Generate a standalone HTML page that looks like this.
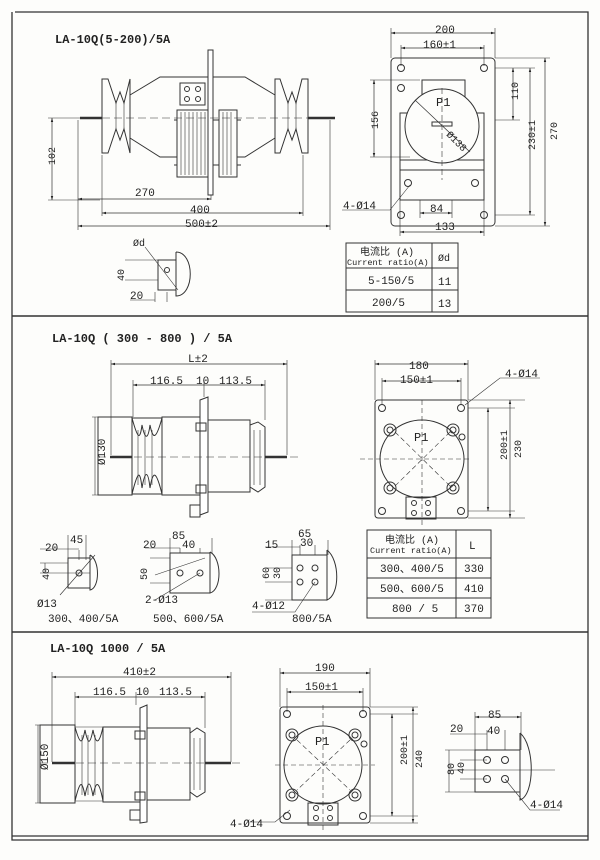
<!DOCTYPE html>
<html><head><meta charset="utf-8"><style>
html,body{margin:0;padding:0;background:#fdfdfb;}
svg{display:block;}
text{font-family:"Liberation Mono","Noto Sans CJK SC",monospace;fill:#222;}
</style></head><body>
<svg width="600" height="860" viewBox="0 0 600 860" xmlns="http://www.w3.org/2000/svg">
<defs>
<marker id="a" viewBox="0 0 10 10" refX="10" refY="5" markerWidth="6" markerHeight="6" orient="auto-start-reverse"><path d="M0,2L10,5L0,8z" fill="#222"/></marker>
</defs>
<g stroke="#333" fill="none" stroke-width="1">
<path d="M15,12H588V840H12V12" stroke-width="1.3"/>
<line x1="12" y1="316" x2="588" y2="316" stroke-width="1.5"/>
<line x1="12" y1="632" x2="588" y2="632" stroke-width="1.5"/>
<line x1="12" y1="836" x2="588" y2="836" stroke-width="1.3"/>

<!-- ===== Section 1 side view ===== -->
<rect x="208" y="50" width="5" height="145" fill="#fff"/>
<path d="M102,79L108,79L116,103L120,92L124,103L130,79L130,153L124,129L120,140L116,129L108,153L102,153Z"/>
<path d="M116,103V129M124,103V129" stroke-width="0.6"/>
<path d="M130,95L160,77H208M130,138L160,157H177M213,77H245L275,95M237,157H245L275,138"/>
<path d="M275,79L280,79L288,103L292,92L296,103L302,79L308,79L308,153L302,153L296,129L292,140L288,129L280,153L275,153Z"/>
<path d="M288,103V129M296,103V129" stroke-width="0.6"/>
<rect x="177" y="110" width="31" height="67"/>
<path d="M181,112V175M185,112V175M189,112V175M193,112V175M197,112V175M201,112V175M205,112V175" stroke-width="0.6"/>
<rect x="219" y="110" width="18" height="67"/>
<path d="M223,112V175M227,112V175M231,112V175" stroke-width="0.6"/>
<rect x="180" y="83" width="25" height="22"/>
<circle cx="187" cy="89" r="2.5"/><circle cx="198" cy="89" r="2.5"/><circle cx="187" cy="99" r="2.5"/><circle cx="198" cy="99" r="2.5"/>
<path d="M213,120H219M213,165H219M174,120h3M174,165h3M237,120h4M237,165h4"/>
<path d="M80,118H102M308,118H335" stroke-width="2.5"/>
<path d="M102,118H308" stroke-dasharray="8,4" stroke-width="0.6"/>
<path d="M48,118H100M48,200H100" stroke-width="0.6"/>
<line x1="52" y1="118" x2="52" y2="200" marker-start="url(#a)" marker-end="url(#a)" stroke-width="0.7"/>
<path d="M78,120V230M211,195V200M102,155V216M303,155V216M330,120V230" stroke-width="0.6"/>
<line x1="78" y1="199" x2="211" y2="199" marker-start="url(#a)" marker-end="url(#a)" stroke-width="0.7"/>
<line x1="102" y1="213" x2="303" y2="213" marker-start="url(#a)" marker-end="url(#a)" stroke-width="0.7"/>
<line x1="78" y1="226" x2="330" y2="226" marker-start="url(#a)" marker-end="url(#a)" stroke-width="0.7"/>
<rect x="158" y="260" width="18" height="30"/>
<path d="M176,252C195,252 195,296 176,296V252"/>
<circle cx="167" cy="270" r="2.5"/>
<path d="M145,247L178,290M125,260H158M125,280H158M155,292V302M167,292V302M130,300H155" stroke-width="0.6"/>

<!-- ===== Section 1 front view ===== -->
<rect x="391" y="58" width="104" height="168" rx="4"/>
<circle cx="401" cy="68" r="3.5"/><circle cx="484" cy="68" r="3.5"/><circle cx="401" cy="215" r="3.5"/><circle cx="484" cy="215" r="3.5"/>
<circle cx="401" cy="88" r="3.5"/>
<path d="M422,80H465V113H484V170H400V113H422Z"/>
<path d="M400,160H484V200H400Z"/>
<circle cx="408" cy="183" r="3.5"/><circle cx="475" cy="183" r="3.5"/>
<circle cx="442" cy="126" r="37" fill="#fdfdfb"/>
<line x1="442" y1="88" x2="442" y2="180" stroke-dasharray="6,3" stroke-width="0.6"/>
<path d="M415,100L470,152" stroke-width="0.7"/>
<rect x="432" y="122" width="20" height="4"/>
<path d="M391,58V28M495,58V28M401,66V45M484,66V45" stroke-width="0.6"/>
<line x1="391" y1="33" x2="495" y2="33" marker-start="url(#a)" marker-end="url(#a)" stroke-width="0.7"/>
<line x1="401" y1="48" x2="484" y2="48" marker-start="url(#a)" marker-end="url(#a)" stroke-width="0.7"/>
<path d="M495,68H535M495,120H520M495,215H535M495,226H550M495,58H550M370,80H420M370,157H410" stroke-width="0.6"/>
<line x1="513" y1="68" x2="513" y2="120" marker-start="url(#a)" marker-end="url(#a)" stroke-width="0.7"/>
<line x1="530" y1="68" x2="530" y2="215" marker-start="url(#a)" marker-end="url(#a)" stroke-width="0.7"/>
<line x1="545" y1="58" x2="545" y2="226" marker-start="url(#a)" marker-end="url(#a)" stroke-width="0.7"/>
<line x1="374" y1="80" x2="374" y2="157" marker-start="url(#a)" marker-end="url(#a)" stroke-width="0.7"/>
<path d="M420,200V218M452,200V218M400,200V236M484,200V236" stroke-width="0.6"/>
<line x1="420" y1="213" x2="452" y2="213" marker-start="url(#a)" marker-end="url(#a)" stroke-width="0.7"/>
<line x1="400" y1="232" x2="484" y2="232" marker-start="url(#a)" marker-end="url(#a)" stroke-width="0.7"/>
<path d="M342,210H390L410,185" stroke-width="0.6"/>
<rect x="346" y="243" width="112" height="69"/>
<path d="M346,268H458M346,290H458M432,243V312"/>

<!-- ===== Section 2 side view ===== -->
<rect x="98" y="417" width="34" height="78"/>
<path d="M132,418L162,418M132,494H162"/>
<path d="M132,418C138,440 140,440 142,425C145,440 148,440 150,425C153,440 156,440 162,418M132,494C138,470 140,470 142,488C145,470 148,470 150,488C153,470 156,470 162,494"/>
<path d="M138,430V485M145,430V485M152,430V485" stroke-width="0.6"/>
<rect x="162" y="417" width="38" height="78"/>
<path d="M200,400L208,397V512L200,515Z" fill="#fff"/>
<rect x="208" y="420" width="42" height="72"/>
<path d="M250,425L258,422L265,427V487L258,492L250,487Z"/>
<path d="M254,430V485M260,430V485" stroke-width="0.6"/>
<path d="M196,423h10v8h-10zM196,485h10v8h-10zM190,505h10v12h-10z"/>
<path d="M110,457H132M265,457H287" stroke-width="2.5"/>
<path d="M98,457H300" stroke-dasharray="8,4" stroke-width="0.6"/>
<path d="M111,360V455M287,360V455M133,380V417M204,380V397M265,380V420" stroke-width="0.6"/>
<line x1="111" y1="364" x2="287" y2="364" marker-start="url(#a)" marker-end="url(#a)" stroke-width="0.7"/>
<line x1="133" y1="385" x2="265" y2="385" marker-start="url(#a)" marker-end="url(#a)" stroke-width="0.7"/>
<path d="M92,417H98M92,495H98M95,417V495" stroke-width="0.6"/>

<rect x="375" y="400" width="93" height="118" rx="3"/>
<circle cx="382" cy="408" r="3.5"/><circle cx="461" cy="408" r="3.5"/><circle cx="382" cy="511" r="3.5"/><circle cx="461" cy="511" r="3.5"/>
<ellipse cx="422" cy="459" rx="42" ry="39" fill="#fdfdfb"/>
<circle cx="390" cy="430" r="6"/><circle cx="390" cy="430" r="3"/><circle cx="453" cy="430" r="6"/><circle cx="453" cy="430" r="3"/>
<circle cx="390" cy="488" r="6"/><circle cx="390" cy="488" r="3"/><circle cx="453" cy="488" r="6"/><circle cx="453" cy="488" r="3"/>
<circle cx="462" cy="437" r="3"/>
<rect x="406" y="497" width="30" height="22"/>
<circle cx="414" cy="503" r="2.5"/><circle cx="428" cy="503" r="2.5"/><circle cx="414" cy="513" r="2.5"/><circle cx="428" cy="513" r="2.5"/>
<path d="M395,432L450,486M450,432L395,486M422,400V525M360,459H472" stroke-dasharray="5,3" stroke-width="0.6"/>
<path d="M375,400V360M468,400V360M382,405V378M461,405V378" stroke-width="0.6"/>
<line x1="375" y1="364" x2="468" y2="364" marker-start="url(#a)" marker-end="url(#a)" stroke-width="0.7"/>
<line x1="382" y1="381" x2="461" y2="381" marker-start="url(#a)" marker-end="url(#a)" stroke-width="0.7"/>
<path d="M468,408H515M468,511H515M468,400H525M468,518H525" stroke-width="0.6"/>
<line x1="488" y1="408" x2="488" y2="511" marker-start="url(#a)" marker-end="url(#a)" stroke-width="0.7"/>
<line x1="510" y1="400" x2="510" y2="518" marker-start="url(#a)" marker-end="url(#a)" stroke-width="0.7"/>
<path d="M540,378H500L465,405" stroke-width="0.6"/>

<rect x="68" y="558" width="22" height="30"/>
<path d="M90,555C100,560 100,588 90,590V555"/>
<circle cx="79" cy="573" r="3"/>
<path d="M68,535V560M86,535V560M79,550V560M40,549H79M40,573H90M40,563H68M45,563V573M60,595L95,555" stroke-width="0.6"/>
<rect x="170" y="553" width="40" height="40"/>
<path d="M210,552C222,558 222,590 210,593V552"/>
<circle cx="180" cy="573" r="3"/><circle cx="200" cy="573" r="3"/>
<path d="M170,538V553M212,538V553M180,548V553M200,548V553M145,548H180M150,558H170M150,583H170M155,575L205,558M155,600L200,573" stroke-width="0.6"/>
<rect x="292" y="555" width="35" height="45"/>
<path d="M327,550C340,560 340,595 327,600V550"/>
<circle cx="300" cy="568" r="3"/><circle cx="315" cy="568" r="3"/><circle cx="300" cy="582" r="3"/><circle cx="315" cy="582" r="3"/>
<path d="M292,540V555M328,540V555M300,545V555M315,545V555M265,547H300M265,568H292M265,582H292M265,600H292M252,612H295L315,582" stroke-width="0.6"/>
<rect x="367" y="530" width="124" height="88"/>
<path d="M367,558H491M367,578H491M367,598H491M456,530V618"/>

<!-- ===== Section 3 ===== -->
<rect x="40" y="725" width="35" height="78"/>
<path d="M75,727C80,745 82,745 85,730C88,745 90,745 93,730C96,745 99,745 103,727M75,801C80,780 82,780 85,796C88,780 90,780 93,796C96,780 99,780 103,801"/>
<path d="M75,727H103M75,801H103M82,735V795M88,735V795M95,735V795" stroke-width="0.6"/>
<rect x="103" y="727" width="37" height="75"/>
<path d="M140,708L147,705V822L140,823Z" fill="#fff"/>
<rect x="147" y="728" width="43" height="72"/>
<path d="M190,733L197,728L205,733V792L197,797L190,792Z"/>
<path d="M194,738V790M200,738V790" stroke-width="0.6"/>
<path d="M135,731h10v8h-10zM135,792h10v8h-10zM130,810h10v10h-10z"/>
<path d="M52,763H75M205,763H231" stroke-width="2.5"/>
<path d="M40,763H240" stroke-dasharray="8,4" stroke-width="0.6"/>
<path d="M52,672V762M231,672V762M75,692V727M136,692V705M205,692V728M35,725H40M35,803H40" stroke-width="0.6"/>
<line x1="52" y1="677" x2="231" y2="677" marker-start="url(#a)" marker-end="url(#a)" stroke-width="0.7"/>
<line x1="75" y1="697" x2="205" y2="697" marker-start="url(#a)" marker-end="url(#a)" stroke-width="0.7"/>
<line x1="38" y1="725" x2="38" y2="803" stroke-width="0.6"/>

<rect x="280" y="707" width="90" height="116" rx="3"/>
<circle cx="287" cy="714" r="3.5"/><circle cx="363" cy="714" r="3.5"/><circle cx="287" cy="816" r="3.5"/><circle cx="363" cy="816" r="3.5"/>
<circle cx="323" cy="765" r="39" fill="#fdfdfb"/>
<circle cx="292" cy="735" r="6"/><circle cx="292" cy="735" r="3"/><circle cx="355" cy="735" r="6"/><circle cx="355" cy="735" r="3"/>
<circle cx="292" cy="795" r="6"/><circle cx="292" cy="795" r="3"/><circle cx="355" cy="795" r="6"/><circle cx="355" cy="795" r="3"/>
<circle cx="364" cy="744" r="3"/>
<rect x="308" y="803" width="30" height="22"/>
<circle cx="316" cy="808" r="2.5"/><circle cx="330" cy="808" r="2.5"/><circle cx="316" cy="818" r="2.5"/><circle cx="330" cy="818" r="2.5"/>
<path d="M297,740L350,790M350,740L297,790M323,705V830M275,765H375" stroke-dasharray="5,3" stroke-width="0.6"/>
<path d="M280,707V668M370,707V668M287,712V688M363,712V688" stroke-width="0.6"/>
<line x1="280" y1="673" x2="370" y2="673" marker-start="url(#a)" marker-end="url(#a)" stroke-width="0.7"/>
<line x1="287" y1="692" x2="363" y2="692" marker-start="url(#a)" marker-end="url(#a)" stroke-width="0.7"/>
<path d="M370,714H418M370,816H418M370,707H418M370,823H418" stroke-width="0.6"/>
<line x1="392" y1="714" x2="392" y2="816" marker-start="url(#a)" marker-end="url(#a)" stroke-width="0.7"/>
<line x1="413" y1="707" x2="413" y2="823" marker-start="url(#a)" marker-end="url(#a)" stroke-width="0.7"/>
<path d="M250,822H275L290,810" stroke-width="0.6"/>

<rect x="475" y="750" width="45" height="42"/>
<path d="M520,733C535,745 535,795 520,800V733"/>
<circle cx="487" cy="760" r="3.5"/><circle cx="505" cy="760" r="3.5"/><circle cx="487" cy="779" r="3.5"/><circle cx="505" cy="779" r="3.5"/>
<path d="M475,712V750M521,712V750M487,730V750M505,730V750M450,734H487M445,750H475M445,792H475M460,760H487M460,779H487M450,770H555M505,779L530,810H560" stroke-width="0.6"/>
<line x1="475" y1="717" x2="521" y2="717" marker-start="url(#a)" marker-end="url(#a)" stroke-width="0.7"/>
<line x1="449" y1="750" x2="449" y2="792" stroke-width="0.6"/>
</g>

<g font-size="11">
<text x="55" y="43" font-size="12" font-weight="bold">LA-10Q(5-200)/5A</text>
<text x="42" y="168" font-size="10" transform="rotate(-90 47 160)">102</text>
<text x="135" y="196">270</text>
<text x="190" y="213">400</text>
<text x="185" y="227">500±2</text>
<text x="435" y="33">200</text>
<text x="423" y="48">160±1</text>
<text x="436" y="106" font-size="12">P1</text>
<text x="448" y="140" font-size="10" transform="rotate(45 453 135)">Ø138</text>
<text x="516" y="102" transform="rotate(-90 516 100)" font-size="10">110</text>
<text x="520" y="165" transform="rotate(-90 520 150)" font-size="10">230±1</text>
<text x="552" y="145" transform="rotate(-90 552 140)" font-size="10">270</text>
<text x="365" y="128" transform="rotate(-90 372 122)" font-size="10">156</text>
<text x="343" y="209">4-Ø14</text>
<text x="430" y="212">84</text>
<text x="435" y="230">133</text>
<text x="133" y="246" font-size="10">Ød</text>
<text x="114" y="279" font-size="10" transform="rotate(-90 120 275)">40</text>
<text x="130" y="299">20</text>
<text x="360" y="255" font-size="10">电流比 (A)</text>
<text x="347" y="265" font-size="8.5">Current ratio(A)</text>
<text x="438" y="261" font-size="10">Ød</text>
<text x="368" y="284">5-150/5</text>
<text x="438" y="285">11</text>
<text x="372" y="306">200/5</text>
<text x="438" y="307">13</text>

<text x="52" y="342" font-size="12" font-weight="bold">LA-10Q ( 300 - 800 ) / 5A</text>
<text x="188" y="362">L±2</text>
<text x="150" y="384">116.5</text>
<text x="196" y="384">10</text>
<text x="219" y="384">113.5</text>
<text x="95" y="475" font-size="11" transform="rotate(-90 95 465)">Ø130</text>
<text x="409" y="369">180</text>
<text x="400" y="383">150±1</text>
<text x="505" y="377">4-Ø14</text>
<text x="414" y="441" font-size="12">P1</text>
<text x="492" y="475" font-size="10" transform="rotate(-90 492 460)">200±1</text>
<text x="514" y="465" font-size="10" transform="rotate(-90 514 458)">230</text>
<text x="45" y="551">20</text><text x="70" y="543">45</text>
<text x="40" y="581" font-size="10" transform="rotate(-90 44 576)">40</text>
<text x="37" y="607">Ø13</text>
<text x="48" y="622">300、400/5A</text>
<text x="143" y="548">20</text><text x="172" y="539">85</text><text x="182" y="548">40</text>
<text x="138" y="581" font-size="10" transform="rotate(-90 142 576)">50</text>
<text x="145" y="603">2-Ø13</text>
<text x="153" y="622">500、600/5A</text>
<text x="265" y="548">15</text><text x="298" y="537">65</text><text x="300" y="546">30</text>
<text x="262" y="578" font-size="10" transform="rotate(-90 266 575)">60</text>
<text x="273" y="578" font-size="10" transform="rotate(-90 277 575)">30</text>
<text x="252" y="609">4-Ø12</text>
<text x="292" y="622">800/5A</text>
<text x="385" y="543" font-size="10">电流比 (A)</text>
<text x="370" y="553" font-size="8.5">Current ratio(A)</text>
<text x="469" y="549">L</text>
<text x="380" y="572">300、400/5</text><text x="464" y="572">330</text>
<text x="380" y="592">500、600/5</text><text x="464" y="592">410</text>
<text x="392" y="612">800 / 5</text><text x="464" y="612">370</text>

<text x="50" y="652" font-size="12" font-weight="bold">LA-10Q 1000 / 5A</text>
<text x="123" y="675">410±2</text>
<text x="93" y="695">116.5</text>
<text x="136" y="695">10</text>
<text x="159" y="695">113.5</text>
<text x="38" y="780" font-size="11" transform="rotate(-90 38 770)">Ø150</text>
<text x="315" y="671">190</text>
<text x="305" y="690">150±1</text>
<text x="315" y="745" font-size="12">P1</text>
<text x="392" y="780" font-size="10" transform="rotate(-90 392 765)">200±1</text>
<text x="415" y="775" font-size="10" transform="rotate(-90 415 768)">240</text>
<text x="230" y="827">4-Ø14</text>
<text x="488" y="718">85</text>
<text x="450" y="732">20</text><text x="487" y="734">40</text>
<text x="445" y="778" font-size="10" transform="rotate(-90 448 772)">80</text>
<text x="457" y="775" font-size="10" transform="rotate(-90 460 771)">40</text>
<text x="530" y="808">4-Ø14</text>
</g>
</svg>
</body></html>
